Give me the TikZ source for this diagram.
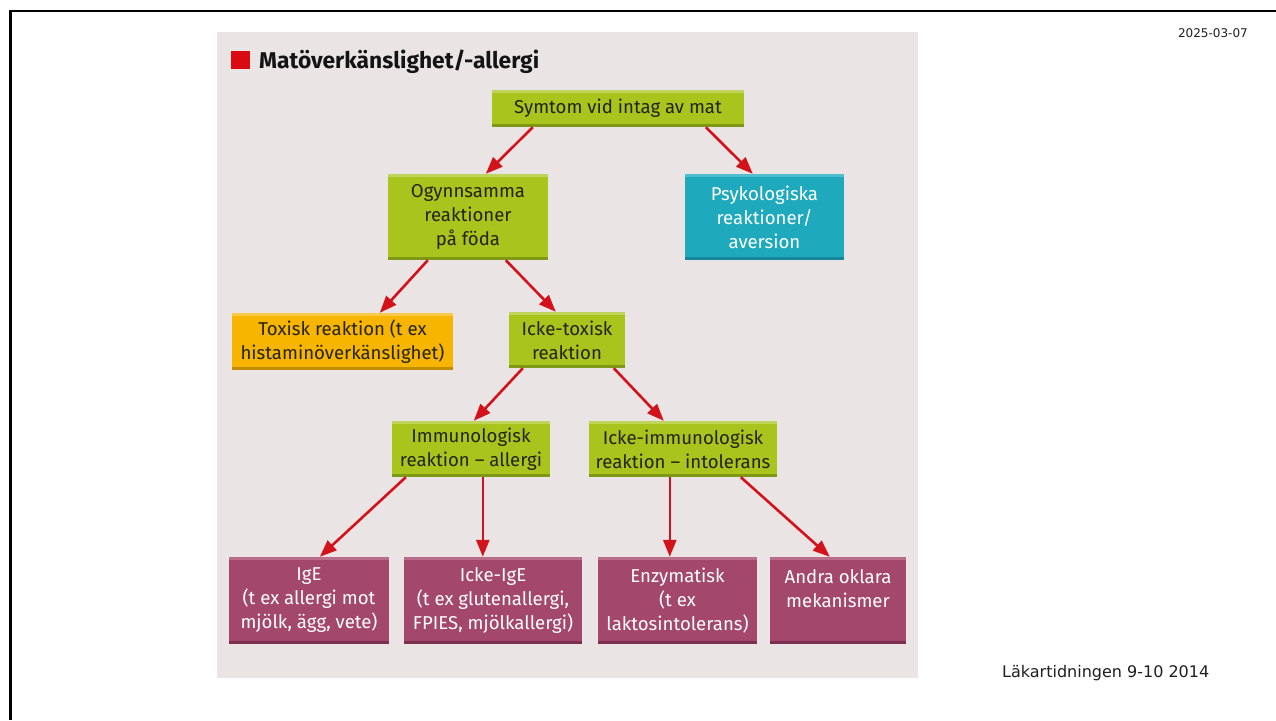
\documentclass[tikz,border=0pt]{standalone}
\usepackage{fontspec}
\setmainfont{Fira Sans}
\newfontfamily\verdfont{DejaVu Sans}
\usetikzlibrary{arrows.meta}
\definecolor{panelbg}{HTML}{EAE4E4}
\definecolor{gfill}{HTML}{A9C41D}
\definecolor{gdark}{HTML}{7F9816}
\definecolor{glight}{HTML}{BFD45A}
\definecolor{tfill}{HTML}{1EA9BD}
\definecolor{tdark}{HTML}{15879A}
\definecolor{tlight}{HTML}{4FBFCF}
\definecolor{ofill}{HTML}{F7B500}
\definecolor{odark}{HTML}{C48C00}
\definecolor{olight}{HTML}{FAC94A}
\definecolor{mfill}{HTML}{A4476D}
\definecolor{mdark}{HTML}{7C2F4F}
\definecolor{mlight}{HTML}{BA6C8B}
\definecolor{darktext}{HTML}{23230F}
\definecolor{arrred}{HTML}{D2131C}
\definecolor{titlered}{HTML}{D90A12}
\tikzset{
  cbox/.style n args={4}{inner sep=0pt, align=center,
    font=\fontsize{18.6}{24}\selectfont, fill=#1, text=#4,
    path picture={
      \fill[#2] ([yshift=3.5pt]path picture bounding box.south west) rectangle (path picture bounding box.south east);
      \fill[#3] (path picture bounding box.north west) rectangle ([yshift=-2.5pt]path picture bounding box.north east);
    }},
  gbox/.style={cbox={gfill}{gdark}{glight}{darktext}},
  tbox/.style={cbox={tfill}{tdark}{tlight}{white}},
  obox/.style={cbox={ofill}{odark}{olight}{darktext}},
  mbox/.style={cbox={mfill}{mdark}{mlight}{white}},
  arr/.style={draw=arrred, line width=2.6pt, -{Triangle[length=17pt,width=13pt]}, fill=arrred}
}
\begin{document}
\begin{tikzpicture}[x=1pt,y=-1pt]
\useasboundingbox (0,0) rectangle (1276,720);
\fill[white] (0,0) rectangle (1276,720);
% slide frame
\draw[line width=2.8pt, line join=miter] (1276,11) -- (10.5,11) -- (10.5,720);
% panel
\fill[panelbg] (217,32) rectangle (918,678);
% title
\fill[titlered] (231,51) rectangle (250,69);
\node[anchor=base west, inner sep=0pt, text=black!92, font=\bfseries\fontsize{22.8}{27}\selectfont] (title) at (259,68) {Matöverkänslighet/-allergi};
% boxes
\node[gbox, minimum width=252pt, minimum height=37pt] (symtom) at (618,108.5) {Symtom vid intag av mat};
\node[gbox, minimum width=160pt, minimum height=86pt] (ogyn) at (468,217) {Ogynnsamma\\reaktioner\\på föda};
\node[tbox, minimum width=159pt, minimum height=86pt] (psyk) at (764.5,217) {Psykologiska\\reaktioner/\\aversion};
\node[obox, minimum width=221pt, minimum height=57pt] (toxisk) at (342.5,341.5) {Toxisk reaktion (t ex\\histaminöverkänslighet)};
\node[gbox, minimum width=116pt, minimum height=56pt] (icketox) at (567,340) {Icke-toxisk\\reaktion};
\node[gbox, minimum width=158pt, minimum height=56pt] (immun) at (471,449) {Immunologisk\\reaktion – allergi};
\node[gbox, minimum width=188pt, minimum height=56pt] (ickeimm) at (683,449) {Icke-immunologisk\\reaktion – intolerans};
\node[mbox, minimum width=160pt, minimum height=87pt] (ige) at (309,600.5) {IgE\\(t ex allergi mot\\mjölk, ägg, vete)};
\node[mbox, minimum width=178pt, minimum height=87pt] (ickeige) at (493,600.5) {Icke-IgE\\(t ex glutenallergi,\\FPIES, mjölkallergi)};
\node[mbox, minimum width=159pt, minimum height=87pt] (enzym) at (677.5,600.5) {Enzymatisk\\(t ex\\laktosintolerans)};
\node[mbox, minimum width=136pt, minimum height=87pt] (andra) at (838,600.5) {Andra oklara\\mekanismer\\\mbox{}};
% arrows
\draw[arr] ([xshift=41pt]symtom.south west) -- ([xshift=98pt]ogyn.north west);
\draw[arr] ([xshift=214pt]symtom.south west) -- ([xshift=68pt]psyk.north west);
\draw[arr] ([xshift=40pt]ogyn.south west) -- ([xshift=148pt]toxisk.north west);
\draw[arr] ([xshift=118pt]ogyn.south west) -- ([xshift=47pt]icketox.north west);
\draw[arr] ([xshift=14pt]icketox.south west) -- ([xshift=82pt]immun.north west);
\draw[arr] ([xshift=105pt]icketox.south west) -- ([xshift=75pt]ickeimm.north west);
\draw[arr] ([xshift=14pt]immun.south west) -- ([xshift=91pt]ige.north west);
\draw[arr] ([xshift=91pt]immun.south west) -- ([xshift=79pt]ickeige.north west);
\draw[arr] ([xshift=81pt]ickeimm.south west) -- ([xshift=72pt]enzym.north west);
\draw[arr] ([xshift=152pt]ickeimm.south west) -- ([xshift=60pt]andra.north west);
% slide texts
\node[anchor=base east, inner sep=0pt, text=black!88, font=\verdfont\fontsize{12}{14}\selectfont] (date) at (1248,37) {2025-03-07};
\node[anchor=base west, inner sep=0pt, text=black!88, font=\verdfont\fontsize{16}{19}\selectfont] (source) at (1002,677) {Läkartidningen 9-10 2014};
\end{tikzpicture}
\end{document}
